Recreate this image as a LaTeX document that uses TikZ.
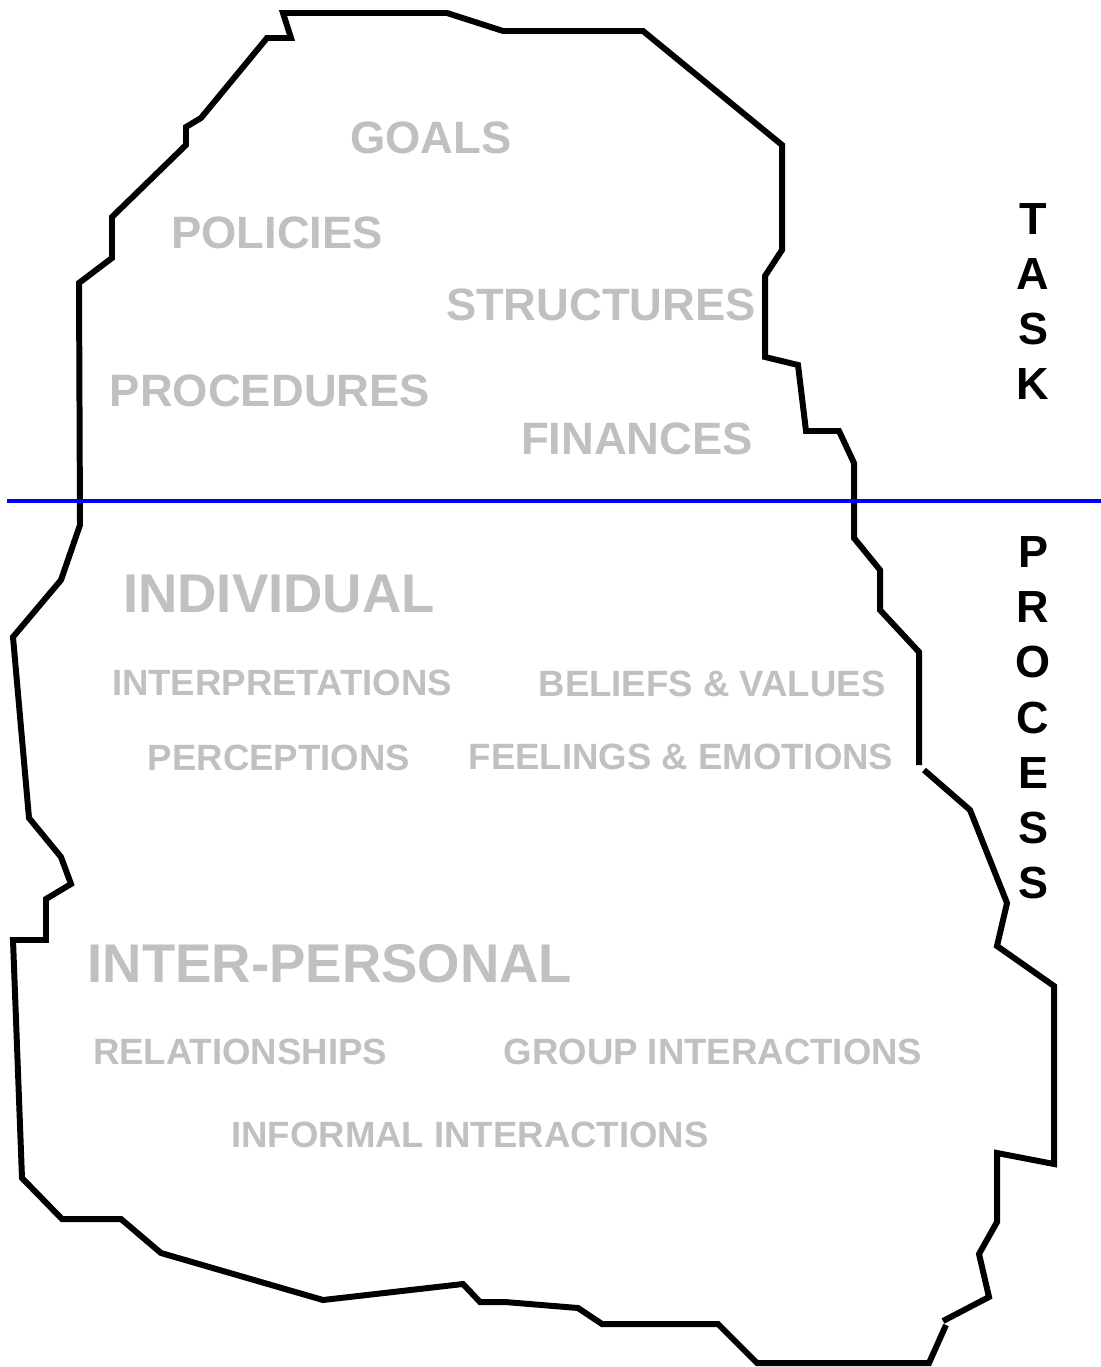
\documentclass[tikz,border=0pt]{standalone}
\usepackage{fontspec}
\setmainfont{Liberation Sans}
\usetikzlibrary{positioning}
\definecolor{faint}{RGB}{192,192,192}
\newcommand{\sizeof}[1]{\fontsize{#1}{#1}\selectfont\bfseries}

\begin{document}
\begin{tikzpicture}[x=0.01cm,y=-0.01cm,
    every node/.style={inner sep=0pt},
    topic/.style={text=faint,font=\sizeof{12.9pt}},
    head/.style={text=faint,font=\sizeof{15.5pt}},
    item/.style={text=faint,font=\sizeof{10.4pt}},
    side/.style={text=black,font=\sizeof{12.8pt}},
    rim/.style={line width=1.7pt},
    divider/.style={blue,line width=1.1pt}]
  \useasboundingbox (0,0) rectangle (1101,1367);

  % outline, drawn in two pieces
  \draw[rim] (946,1325) -- (929,1363) -- (757,1363) -- (718,1324) -- (602,1324)
    -- (578,1308) -- (505,1302) -- (480,1302) -- (463,1284) -- (323,1300)
    -- (161,1253) -- (121,1219) -- (62,1219) -- (22,1178) -- (13,940)
    -- (46,940) -- (46,899) -- (71,884) -- (61,857) -- (29,818) -- (13,637)
    -- (61,580) -- (80,525) -- (79,283) -- (112,258) -- (112,217) -- (186,145)
    -- (186,127) -- (201,118) -- (267,38) -- (291,38) -- (283,13) -- (447,13)
    -- (503,31) -- (643,31) -- (782,145) -- (782,250) -- (765,276) -- (765,357)
    -- (798,365) -- (806,431) -- (839,431) -- (854,463) -- (854,538) -- (880,570)
    -- (880,610) -- (919,652) -- (919,765);
  \draw[rim] (924,770) -- (970,810) -- (1007,903) -- (997,946) -- (1054,986)
    -- (1054,1164) -- (997,1153) -- (997,1222) -- (979,1254) -- (989,1297)
    -- (943,1321);

  \coordinate (divL) at (7,501);
  \coordinate (divR) at (1101,501);
  \draw[divider] (divL) -- (divR);

  \node[topic] (goals) at (431,138) {GOALS};
  \node[topic] (policies) at (277,233) {POLICIES};
  \node[topic] (structures) at (601,305) {STRUCTURES};
  \node[topic] (procedures) at (270,391) {PROCEDURES};
  \node[topic] (finances) at (637,439) {FINANCES};

  \node[head] (indiv) at (279,594) {INDIVIDUAL};
  \node[item] (interp) at (282,683) {INTERPRETATIONS};
  \node[item] (beliefs) at (712,684) {BELIEFS \& VALUES};
  \node[item] (percep) at (279,758) {PERCEPTIONS};
  \node[item] (feelings) at (681,757) {FEELINGS \& EMOTIONS};

  \node[head] (interpers) at (330,964) {INTER-PERSONAL};
  \node[item] (relations) at (240,1052) {RELATIONSHIPS};
  \node[item] (group) at (713,1052) {GROUP INTERACTIONS};
  \node[item] (informal) at (470,1135) {INFORMAL INTERACTIONS};

  \foreach \l [count=\i] in {T,A,S,K}
    \node[side] (task-\i) at (1033,{219+55*(\i-1)}) {\l};
  \foreach \l [count=\i] in {P,R,O,C,E,S,S}
    \node[side] (process-\i) at (1033,{552+55.2*(\i-1)}) {\l};
\end{tikzpicture}
\end{document}
